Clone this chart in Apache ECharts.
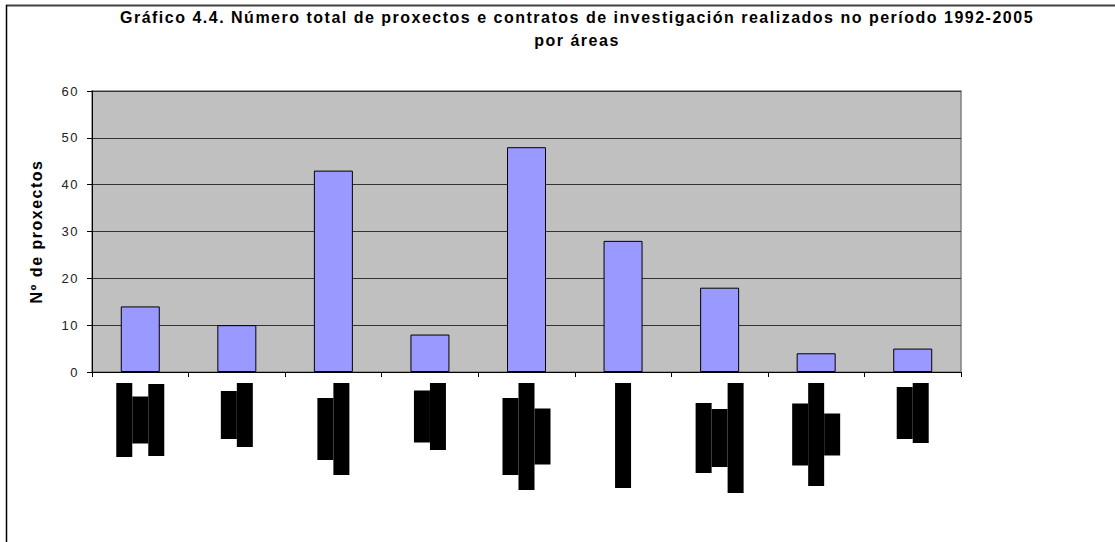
<!DOCTYPE html>
<html>
<head>
<meta charset="utf-8">
<script src="https://cdn.jsdelivr.net/npm/echarts@6/dist/echarts.min.js"></script>
<style>
  html, body { margin: 0; padding: 0; background: #fff; }
  #chart { width: 1115px; height: 542px; }
  /* o orixinal ten o texto algo espaciado */
  #chart text { letter-spacing: 1.5px; }
</style>
</head>
<body>
<div id="chart"></div>
<script>
// Áreas (os rótulos do orixinal aparecen tapados en negro)
const areas = [
  'Ciencias Agrarias\ne Forestais\nRecursos Naturais',
  'Ciencias\nExperimentais',
  'Ciencias\nTecnolóxicas',
  'Ciencias\nda Saúde',
  'Enxeñaría\nIndustrial e\nArquitectura',
  'Humanidades',
  'Ciencias Sociais,\nEconómicas e\nXurídicas',
  'Tecnoloxías da\nInformación e\nComunicacións',
  'Ciencias\nMariñas'
];
const proxectos = [14, 10, 43, 8, 48, 28, 18, 4, 5];
const yTicks = [0, 10, 20, 30, 40, 50, 60];

// lonxitude (px) de cada bloque negro dos rótulos, só estilo
const blockLen = [
  [74, 47, 72],
  [48, 64],
  [62, 92],
  [52, 67],
  [77, 107, 56],
  [105],
  [70, 58, 110],
  [62, 103, 42],
  [52, 60]
];

const rich = {};
blockLen.forEach((lens, i) => {
  lens.forEach((w, j) => {
    rich['k' + i + '_' + j] = {
      width: w,
      height: 16,
      lineHeight: 16,
      align: 'center',
      color: 'transparent',
      backgroundColor: '#000',
      fontSize: 6
    };
  });
});

const chart = echarts.init(document.getElementById('chart'), null, { renderer: 'svg' });
chart.setOption({
  animation: false,
  title: {
    text: 'Gráfico 4.4. Número total de proxectos e contratos de investigación realizados no período 1992-2005\npor áreas',
    left: 572,
    textAlign: 'center',
    top: 1,
    textStyle: {
      fontFamily: 'Liberation Sans, Arial, sans-serif',
      fontSize: 16,
      fontWeight: 'bold',
      color: '#000',
      lineHeight: 23
    }
  },
  grid: {
    left: 92,
    right: 154,
    top: 91,
    bottom: 170,
    show: true,
    backgroundColor: '#C0C0C0',
    borderColor: '#808080',
    borderWidth: 1.5
  },
  xAxis: {
    type: 'category',
    data: areas,
    axisLine: { lineStyle: { color: '#000', width: 1 } },
    axisTick: { show: true, length: 5, lineStyle: { color: '#000' } },
    axisLabel: {
      interval: 0,
      rotate: 90,
      margin: 11,
      rich: rich,
      formatter: (val, idx) => val.split('\n')
        .map((ln, j) => '{k' + idx + '_' + j + '|' + ln + '}')
        .join('\n')
    }
  },
  yAxis: {
    type: 'value',
    min: yTicks[0],
    max: yTicks[yTicks.length - 1],
    interval: 10,
    name: 'Nº de proxectos',
    nameLocation: 'middle',
    nameGap: 48,
    nameTextStyle: {
      fontFamily: 'Liberation Sans, Arial, sans-serif',
      fontSize: 16,
      fontWeight: 'bold',
      color: '#000'
    },
    axisLine: { show: true, lineStyle: { color: '#000', width: 1 } },
    axisTick: { show: true, length: 5, lineStyle: { color: '#000' } },
    axisLabel: {
      margin: 13,
      fontFamily: 'Liberation Sans, Arial, sans-serif',
      fontSize: 13,
      color: '#222'
    },
    splitLine: { lineStyle: { color: '#333', width: 1 } }
  },
  series: [{
    type: 'bar',
    data: proxectos,
    barWidth: 39,
    itemStyle: {
      color: '#9999FF',
      borderColor: '#000',
      borderWidth: 1
    }
  }],
  graphic: [
    { type: 'line', shape: { x1: 6, y1: 5.5, x2: 1115, y2: 5.5 }, style: { stroke: '#404040', lineWidth: 2 } },
    { type: 'line', shape: { x1: 6.5, y1: 5, x2: 6.5, y2: 542 }, style: { stroke: '#000', lineWidth: 1.5 } }
  ]
});
</script>
</body>
</html>
